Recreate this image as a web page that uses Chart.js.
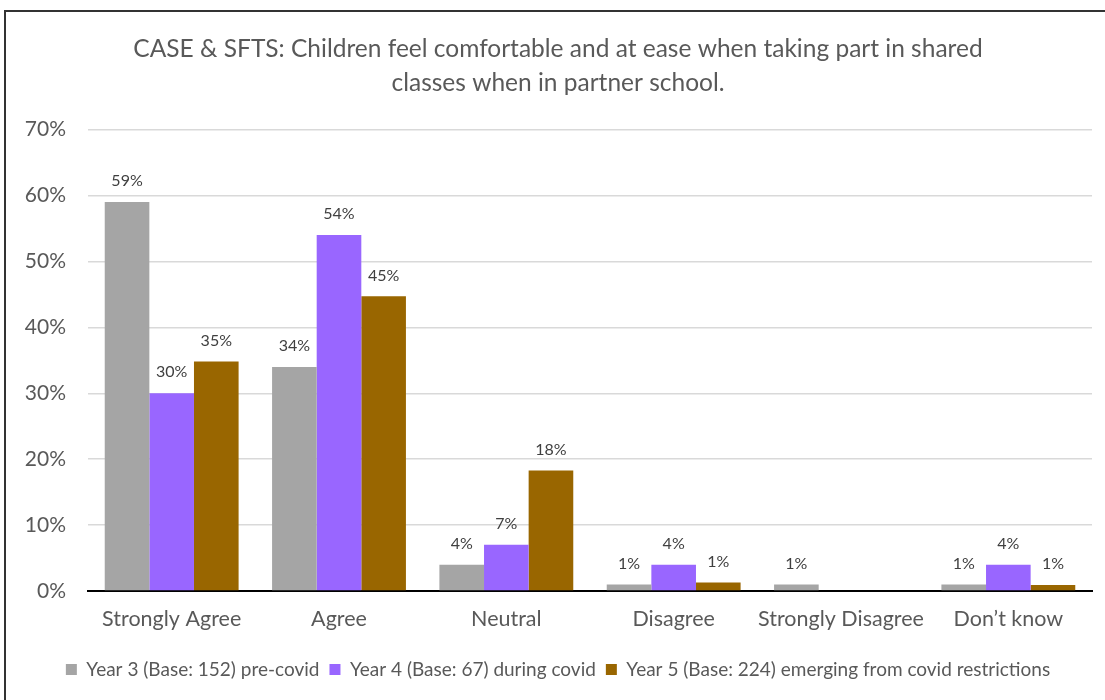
<!DOCTYPE html>
<html>
<head>
<meta charset="utf-8">
<script src="https://cdn.jsdelivr.net/npm/chart.js@4/dist/chart.umd.min.js"></script>
<style>
  html, body { margin: 0; padding: 0; background: #ffffff; }
  #wrap { width: 1105px; height: 700px; position: relative; }
</style>
</head>
<body>
<div id="wrap"><canvas id="c" width="1105" height="700"></canvas></div>
<script>
// Survey response categories
const categories = ['Strongly Agree', 'Agree', 'Neutral', 'Disagree', 'Strongly Disagree', 'Don\u2019t know'];

// Share of responses (%) per cohort
const year3PreCovid = [59, 34, 4, 1, 1, 1];
const year4DuringCovid = [30, 54, 7, 4, 0, 4];
const year5Emerging = [34.8, 44.7, 18.3, 1.3, 0, 0.9];

const seriesNames = [
  'Year 3 (Base: 152) pre-covid',
  'Year 4 (Base: 67) during covid',
  'Year 5 (Base: 224) emerging from covid restrictions'
];

const yTicks = [0, 10, 20, 30, 40, 50, 60, 70];

const titleLines = [
  'CASE & SFTS: Children feel comfortable and at ease when taking part in shared',
  'classes when in partner school.'
];

const FONT = 'Lato, "Open Sans", "Noto Sans", sans-serif';
const TEXT = '#595959';

// Frame around the whole chart plus a white background
const framePlugin = {
  id: 'frame',
  beforeDraw(chart) {
    const ctx = chart.ctx;
    ctx.save();
    ctx.fillStyle = '#ffffff';
    ctx.fillRect(0, 0, chart.width, chart.height);
    ctx.strokeStyle = '#333333';
    ctx.lineWidth = 2;
    ctx.strokeRect(5, 11, chart.width + 20, chart.height + 20);
    ctx.restore();
  }
};

// Percentage labels above each bar
const valueLabels = {
  id: 'valueLabels',
  afterDatasetsDraw(chart) {
    const ctx = chart.ctx;
    ctx.save();
    ctx.font = '16px ' + FONT;
    ctx.fillStyle = '#404040';
    ctx.textAlign = 'center';
    ctx.textBaseline = 'middle';
    chart.data.datasets.forEach((ds, di) => {
      const meta = chart.getDatasetMeta(di);
      meta.data.forEach((bar, i) => {
        const v = ds.data[i];
        if (!v) return;
        ctx.fillText(Math.round(v) + '%', bar.x, bar.y - 21);
      });
    });
    ctx.restore();
  }
};

new Chart(document.getElementById('c'), {
  type: 'bar',
  data: {
    labels: categories,
    datasets: [
      { label: seriesNames[0], data: year3PreCovid, backgroundColor: '#a5a5a5' },
      { label: seriesNames[1], data: year4DuringCovid, backgroundColor: '#9966ff' },
      { label: seriesNames[2], data: year5Emerging, backgroundColor: '#996600' }
    ]
  },
  options: {
    responsive: false,
    animation: false,
    devicePixelRatio: 1,
    layout: { padding: { left: 24, right: 13, top: 0, bottom: 11 } },
    datasets: {
      bar: { categoryPercentage: 0.8, barPercentage: 1.0, borderWidth: 0 }
    },
    scales: {
      x: {
        grid: { display: false, drawTicks: false },
        border: { display: true, color: '#000000', width: 2 },
        ticks: {
          color: TEXT,
          font: { family: FONT, size: 21.5 },
          padding: 15,
          maxRotation: 0,
          minRotation: 0,
          autoSkip: false
        },
        afterFit(scale) { scale.height = 59; }
      },
      y: {
        min: 0,
        max: 70,
        afterBuildTicks(scale) { scale.ticks = yTicks.map(v => ({ value: v })); },
        grid: { color: '#d9d9d9', lineWidth: 1.5, drawTicks: false },
        border: { display: false },
        ticks: {
          color: TEXT,
          font: { family: FONT, size: 21 },
          padding: 22,
          callback: v => v + '%'
        },
        afterFit(scale) { scale.width = 64; }
      }
    },
    plugins: {
      title: {
        display: true,
        text: titleLines,
        color: TEXT,
        font: { family: FONT, size: 24.5, weight: 'normal', lineHeight: 1.4 },
        padding: { top: 32, bottom: 29 }
      },
      legend: {
        position: 'bottom',
        labels: {
          color: TEXT,
          font: { family: FONT, size: 19 },
          boxWidth: 11,
          boxHeight: 11,
          padding: 10
        }
      },
      tooltip: { enabled: false }
    }
  },
  plugins: [framePlugin, valueLabels]
});
</script>
</body>
</html>
